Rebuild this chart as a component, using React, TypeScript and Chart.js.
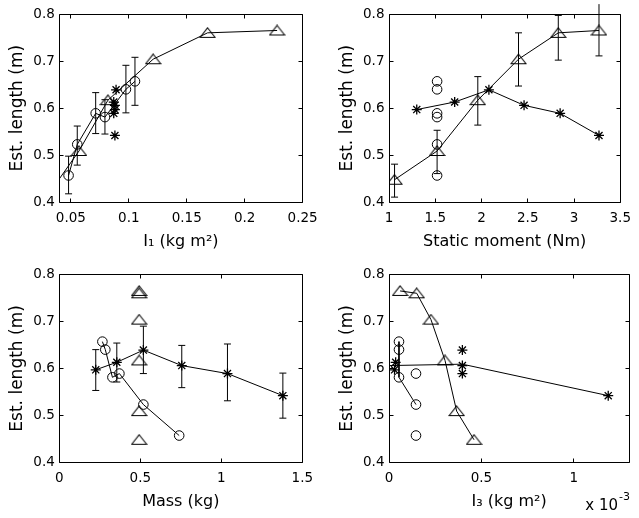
import React, { useEffect, useRef } from 'react';
import { Chart, registerables } from 'chart.js';

Chart.register(...registerables);

const FONT = "'DejaVu Sans', 'Liberation Sans', sans-serif";
const W = 639;
const H = 518;
const YW = 59.3; // width reserved for y axis (labels + title)
const XH = 57.7; // height reserved for x axis (labels + title)

// ---------- data: estimated length (m) for each marker group ----------
const triLen = [0.448, 0.509, 0.617, 0.704, 0.760, 0.765];
const circLen = [0.657, 0.640, 0.581, 0.589, 0.523, 0.457];
const starLen = [0.597, 0.613, 0.639, 0.606, 0.589, 0.542];

// panel 1: I1 (kg m^2)
const triI1 = [0.0395, 0.057, 0.082, 0.121, 0.168, 0.228];
const circI1 = [0.1053, 0.0975, 0.0794, 0.0714, 0.0555, 0.048];
const circI1Lo = [0.606, 0.590, 0.545, 0.546, 0.479, 0.418];
const circI1Hi = [0.708, 0.691, 0.618, 0.633, 0.562, 0.498];
const starI1 = [0.088, 0.087, 0.089, 0.088, 0.087, 0.088];

// panel 2: static moment (Nm)
const triStatic = [1.06, 1.52, 1.96, 2.40, 2.83, 3.27];
const triStaticLo = [0.411, 0.461, 0.564, 0.647, 0.702, 0.711];
const triStaticHi = [0.481, 0.553, 0.667, 0.760, 0.797, 0.821];
const circStatic = [1.52, 1.52, 1.52, 1.52, 1.52, 1.52];
const starStatic = [1.30, 1.71, 2.08, 2.46, 2.85, 3.27];

// panel 3: mass (kg)
const triMass = [0.493, 0.493, 0.493, 0.493, 0.493, 0.493];
const circMass = [0.266, 0.284, 0.328, 0.371, 0.519, 0.74];
const starMass = [0.225, 0.355, 0.519, 0.756, 1.038, 1.38];
const starMassLo = [0.553, 0.571, 0.589, 0.559, 0.531, 0.494];
const starMassHi = [0.640, 0.654, 0.690, 0.649, 0.652, 0.590];

// panel 4: I3 (x 10^-3 kg m^2)
const triI3 = [0.46, 0.366, 0.303, 0.227, 0.150, 0.060];
const circI3 = [0.054, 0.054, 0.054, 0.146, 0.146, 0.146];
const circI3LineIdx = [0, 1, 2, 4];
const starI3 = [0.030, 0.036, 0.397, 0.397, 0.397, 1.186];
const starTrendI3 = [0, 0.397, 1.186];
const starTrendLen = [0.606, 0.609, 0.542];

// ---------- ticks & labels ----------
const yTicks = [0.4, 0.5, 0.6, 0.7, 0.8];
const xTicksI1 = [0.05, 0.1, 0.15, 0.2, 0.25];
const xTicksStatic = [1, 1.5, 2, 2.5, 3, 3.5];
const xTicksMass = [0, 0.5, 1, 1.5];
const xTicksI3 = [0, 0.5, 1];
const yTitle = 'Est. length (m)';
const xTitleI1 = 'I\u2081 (kg m\u00B2)';
const xTitleStatic = 'Static moment (Nm)';
const xTitleMass = 'Mass (kg)';
const xTitleI3 = 'I\u2083 (kg m\u00B2)';
const expBase = 'x 10';
const expPow = '-3';

// ---------- helpers ----------
const pts = (xs: number[], ys: number[]) => xs.map((x, i) => ({ x, y: ys[i] }));
const pick = <T,>(arr: T[], idx: number[]) => idx.map((i) => arr[i]);

const TRI_R = 7;
const CIRC_R = 4.8;
const STAR_R = 5;

// MATLAB-like open triangle marker (wider than tall)
let triCanvas: HTMLCanvasElement | null = null;
function triMarker(): HTMLCanvasElement {
  if (triCanvas) return triCanvas;
  const c = document.createElement('canvas');
  c.width = 17;
  c.height = 12;
  const g = c.getContext('2d')!;
  g.strokeStyle = '#000';
  g.lineWidth = 1.1;
  g.beginPath();
  g.moveTo(8.5, 1);
  g.lineTo(16, 10.5);
  g.lineTo(1, 10.5);
  g.closePath();
  g.stroke();
  triCanvas = c;
  return c;
}

function markers(
  data: any[],
  style: any,
  r: number,
  line: boolean,
  clip: any = 0,
  pw = 1,
  minX = -Infinity,
) {
  // markers whose centre lies outside the axes are hidden (as in MATLAB)
  const rad = (c: any) => (c.raw && c.raw.x < minX ? 0 : r);
  return {
    data,
    showLine: line,
    pointStyle: style,
    pointRadius: rad,
    pointHoverRadius: rad,
    borderColor: '#000',
    backgroundColor: 'rgba(0,0,0,0)',
    pointBorderColor: '#000',
    pointBackgroundColor: 'rgba(0,0,0,0)',
    borderWidth: 1,
    pointBorderWidth: pw,
    clip,
  };
}

function path(data: any[], clip: any = 0) {
  return {
    data,
    showLine: true,
    pointRadius: 0,
    pointHoverRadius: 0,
    borderColor: '#000',
    backgroundColor: 'rgba(0,0,0,0)',
    borderWidth: 1,
    clip,
  };
}

function errorBars(xs: number[], lo: number[], hi: number[]) {
  return xs.map((x, i) => ({
    data: [
      { x, y: lo[i] },
      { x, y: hi[i] },
    ],
    showLine: true,
    pointStyle: 'line',
    pointRadius: 3.5,
    pointHoverRadius: 3.5,
    borderColor: '#000',
    pointBorderColor: '#000',
    backgroundColor: 'rgba(0,0,0,0)',
    borderWidth: 1,
    pointBorderWidth: 1,
    clip: false,
  }));
}

interface Panel {
  L: number;
  R: number;
  T: number;
  B: number;
  xMin: number;
  xMax: number;
  xTicks: number[];
  xTitle: string;
  datasets: () => any[];
  exponent?: boolean;
}

const panels: Panel[] = [
  {
    L: 59.3, R: 302.6, T: 14, B: 202.3,
    xMin: 0.04, xMax: 0.25, xTicks: xTicksI1, xTitle: xTitleI1,
    datasets: () => [
      ...errorBars(circI1, circI1Lo, circI1Hi),
      markers(pts(triI1, triLen), triMarker(), TRI_R, true, 0, 1, 0.04),
      markers(pts(circI1, circLen), 'circle', CIRC_R, true, 0),
      markers(pts(starI1, starLen), 'star', STAR_R, false, 0, 1.3),
    ],
  },
  {
    L: 389, R: 629.3, T: 14, B: 202.3,
    xMin: 1, xMax: 3.5, xTicks: xTicksStatic, xTitle: xTitleStatic,
    datasets: () => [
      ...errorBars(triStatic, triStaticLo, triStaticHi),
      markers(pts(triStatic, triLen), triMarker(), TRI_R, true, 0),
      markers(pts(circStatic, circLen), 'circle', CIRC_R, false, 0),
      markers(pts(starStatic, starLen), 'star', STAR_R, true, 0, 1.3),
    ],
  },
  {
    L: 59.3, R: 302.3, T: 274.5, B: 462.3,
    xMin: 0, xMax: 1.5, xTicks: xTicksMass, xTitle: xTitleMass,
    datasets: () => [
      ...errorBars(starMass, starMassLo, starMassHi),
      markers(pts(triMass, triLen), triMarker(), TRI_R, false, 0),
      markers(pts(circMass, circLen), 'circle', CIRC_R, true, 0),
      markers(pts(starMass, starLen), 'star', STAR_R, true, 0, 1.3),
    ],
  },
  {
    L: 389, R: 629.3, T: 274.5, B: 462.3,
    xMin: 0, xMax: 1.3, xTicks: xTicksI3, xTitle: xTitleI3, exponent: true,
    datasets: () => [
      path(pick(pts(circI3, circLen), circI3LineIdx), 0),
      path(pts(starTrendI3, starTrendLen), 0),
      markers(pts(triI3, triLen), triMarker(), TRI_R, true, 0),
      markers(pts(circI3, circLen), 'circle', CIRC_R, false, 0),
      markers(pts(starI3, starLen), 'star', STAR_R, false, 0, 1.3),
    ],
  },
];

function makeFramePlugin(p: Panel) {
  return {
    id: 'matlabFrame',
    afterDraw(chart: any) {
      const { ctx, chartArea: a } = chart;
      const xs = chart.scales.x;
      const ys = chart.scales.y;
      const snap = (v: number) => Math.floor(v) + 0.5;
      const l = snap(a.left);
      const r = snap(a.right);
      const t = snap(a.top);
      const b = snap(a.bottom);
      const tl = 4;
      ctx.save();
      ctx.strokeStyle = '#000';
      ctx.lineWidth = 1;
      ctx.beginPath();
      ctx.rect(l, t, r - l, b - t);
      xs.ticks.forEach((tk: any) => {
        const px = snap(xs.getPixelForValue(tk.value));
        ctx.moveTo(px, b);
        ctx.lineTo(px, b - tl);
        ctx.moveTo(px, t);
        ctx.lineTo(px, t + tl);
      });
      ys.ticks.forEach((tk: any) => {
        const py = snap(ys.getPixelForValue(tk.value));
        ctx.moveTo(l, py);
        ctx.lineTo(l + tl, py);
        ctx.moveTo(r, py);
        ctx.lineTo(r - tl, py);
      });
      ctx.stroke();
      if (p.exponent) {
        ctx.fillStyle = '#000';
        ctx.textAlign = 'left';
        ctx.textBaseline = 'alphabetic';
        ctx.font = `15px ${FONT}`;
        const x0 = a.right - 44;
        ctx.fillText(expBase, x0, a.bottom + 47.5);
        const w = ctx.measureText(expBase).width;
        ctx.font = `11px ${FONT}`;
        ctx.fillText(expPow, x0 + w + 1, a.bottom + 38);
      }
      ctx.restore();
    },
  };
}

function buildConfig(p: Panel): any {
  const tickFont = { family: FONT, size: 13.5 };
  return {
    type: 'scatter',
    data: { datasets: p.datasets() },
    options: {
      responsive: false,
      animation: false,
      events: [],
      layout: {
        padding: {
          left: p.L - YW,
          top: p.T,
          right: W - p.R,
          bottom: H - (p.B + XH),
        },
      },
      plugins: {
        legend: { display: false },
        tooltip: { enabled: false },
      },
      scales: {
        x: {
          type: 'linear',
          min: p.xMin,
          max: p.xMax,
          afterBuildTicks: (s: any) => {
            s.ticks = p.xTicks.map((v) => ({ value: v }));
          },
          afterFit: (s: any) => {
            s.height = XH;
          },
          grid: { display: false, drawTicks: false },
          border: { display: false },
          ticks: {
            autoSkip: false,
            maxRotation: 0,
            padding: 8,
            color: '#000',
            font: tickFont,
            callback: (v: any) => String(v),
          },
          title: {
            display: true,
            text: p.xTitle,
            color: '#000',
            font: { family: FONT, size: 16 },
            padding: { top: 0, bottom: 8.6 },
          },
        },
        y: {
          type: 'linear',
          min: 0.4,
          max: 0.8,
          afterBuildTicks: (s: any) => {
            s.ticks = yTicks.map((v) => ({ value: v }));
          },
          afterFit: (s: any) => {
            s.width = YW;
          },
          grid: { display: false, drawTicks: false },
          border: { display: false },
          ticks: {
            autoSkip: false,
            padding: 4.5,
            color: '#000',
            font: tickFont,
            callback: (v: any) => String(v),
          },
          title: {
            display: true,
            text: yTitle,
            color: '#000',
            font: { family: FONT, size: 17 },
            padding: { top: 7.3, bottom: 0 },
          },
        },
      },
    },
    plugins: [makeFramePlugin(p)],
  };
}

export default function App() {
  const refs = useRef<(HTMLCanvasElement | null)[]>([]);

  useEffect(() => {
    const charts = panels.map((p, i) => {
      const cv = refs.current[i];
      return cv ? new Chart(cv, buildConfig(p)) : null;
    });
    return () => {
      charts.forEach((c) => c && c.destroy());
    };
  }, []);

  return (
    <div style={{ position: 'absolute', left: 0, top: 0, width: W, height: H, background: '#fff' }}>
      {panels.map((_, i) => (
        <canvas
          key={i}
          ref={(el) => {
            refs.current[i] = el;
          }}
          width={W}
          height={H}
          style={{ position: 'absolute', left: 0, top: 0, width: W, height: H }}
        />
      ))}
    </div>
  );
}
